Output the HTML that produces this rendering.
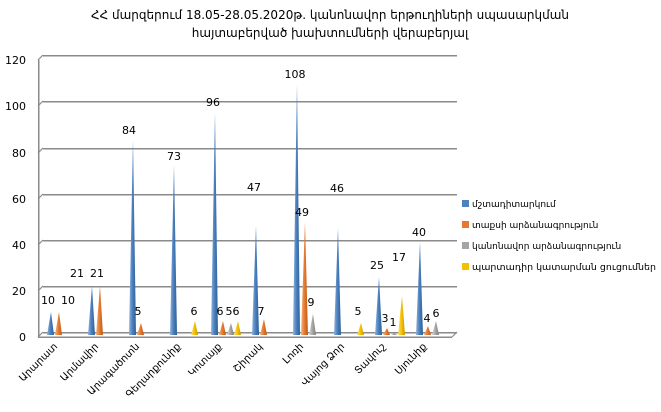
<!DOCTYPE html>
<html><head><meta charset="utf-8"><style>
html,body{margin:0;padding:0;background:#fff;}
svg{display:block;font-family:"DejaVu Sans","Liberation Sans",sans-serif;}
</style></head><body>
<svg width="661" height="412" viewBox="0 0 661 412" xmlns="http://www.w3.org/2000/svg">
<defs>
<linearGradient id="gb" x1="0" x2="1"><stop offset="0" stop-color="#8fb4dc"/><stop offset="0.5" stop-color="#4a7fbd"/><stop offset="1" stop-color="#2f5f97"/></linearGradient>
<linearGradient id="go" x1="0" x2="1"><stop offset="0" stop-color="#f5b27a"/><stop offset="0.5" stop-color="#e6792f"/><stop offset="1" stop-color="#b95a1c"/></linearGradient>
<linearGradient id="gg" x1="0" x2="1"><stop offset="0" stop-color="#d8d8d8"/><stop offset="0.5" stop-color="#a5a5a5"/><stop offset="1" stop-color="#7e7e7e"/></linearGradient>
<linearGradient id="gy" x1="0" x2="1"><stop offset="0" stop-color="#ffe27a"/><stop offset="0.5" stop-color="#f5c000"/><stop offset="1" stop-color="#c89a00"/></linearGradient>
</defs>
<text x="330" y="19" font-size="12" text-anchor="middle">ՀՀ մարզերում 18.05-28.05.2020թ.  կանոնավոր երթուղիների սպասարկման</text>
<text x="330" y="37" font-size="12" text-anchor="middle">հայտաբերված  խախտումների  վերաբերյալ</text>
<g fill="#8a8a8a">
<rect x="43" y="55" width="414" height="1.5"/><rect x="43" y="101" width="414" height="1.5"/>
<rect x="43" y="148" width="414" height="1.5"/><rect x="43" y="194" width="414" height="1.5"/>
<rect x="43" y="240" width="414" height="1.5"/><rect x="43" y="286" width="414" height="1.5"/>
<rect x="43" y="332" width="414" height="1.5"/>
<rect x="38" y="60" width="1.5" height="278"/><rect x="38" y="336.5" width="414" height="1.5"/>
</g>
<g stroke="#8a8a8a" stroke-width="1.2">
<line x1="38" y1="60" x2="43" y2="55"/><line x1="38" y1="106" x2="43" y2="101"/>
<line x1="38" y1="153" x2="43" y2="148"/><line x1="38" y1="199" x2="43" y2="194"/>
<line x1="38" y1="245" x2="43" y2="240"/><line x1="38" y1="291" x2="43" y2="286"/>
<line x1="38" y1="337" x2="43" y2="332"/><line x1="452" y1="337" x2="457" y2="332"/>
</g>
<g font-size="11" text-anchor="end" fill="#000">
<text x="26" y="64">120</text><text x="26" y="110">100</text><text x="26" y="157">80</text><text x="26" y="203">60</text><text x="26" y="249">40</text><text x="26" y="295">20</text><text x="26" y="341">0</text>
</g>
<g>
<polygon points="47,335 51,312 54,335" fill="url(#gb)"/>
<polygon points="55,335 59,312 62,335" fill="url(#go)"/>
<polygon points="88,335 92,286 95,335" fill="url(#gb)"/>
<polygon points="96,335 100,286 103,335" fill="url(#go)"/>
<polygon points="129,335 133,140 136,335" fill="url(#gb)"/>
<polygon points="137,335 141,323 144,335" fill="url(#go)"/>
<polygon points="170,335 174,165 177,335" fill="url(#gb)"/>
<polygon points="191,335 195,321 198,335" fill="url(#gy)"/>
<polygon points="211,335 215,112 218,335" fill="url(#gb)"/>
<polygon points="219,335 223,321 226,335" fill="url(#go)"/>
<polygon points="227,335 231,323 234,335" fill="url(#gg)"/>
<polygon points="234,335 238,321 241,335" fill="url(#gy)"/>
<polygon points="252,335 256,226 259,335" fill="url(#gb)"/>
<polygon points="260,335 264,319 267,335" fill="url(#go)"/>
<polygon points="293,335 297,84 300,335" fill="url(#gb)"/>
<polygon points="301,335 305,222 308,335" fill="url(#go)"/>
<polygon points="309,335 313,314 316,335" fill="url(#gg)"/>
<polygon points="334,335 338,228 341,335" fill="url(#gb)"/>
<polygon points="357,335 361,323 364,335" fill="url(#gy)"/>
<polygon points="375,335 379,277 382,335" fill="url(#gb)"/>
<polygon points="383,335 387,328 390,335" fill="url(#go)"/>
<polygon points="391,335 394,333 397,335" fill="url(#gg)"/>
<polygon points="398,335 402,296 405,335" fill="url(#gy)"/>
<polygon points="416,335 420,242 423,335" fill="url(#gb)"/>
<polygon points="424,335 428,326 431,335" fill="url(#go)"/>
<polygon points="432,335 436,321 439,335" fill="url(#gg)"/>
</g>
<g font-size="11" text-anchor="middle" fill="#000">
<text x="48" y="304">10</text><text x="68" y="304">10</text><text x="77" y="277">21</text><text x="97" y="277">21</text>
<text x="129" y="134">84</text><text x="138" y="315">5</text><text x="174" y="160">73</text><text x="194" y="315">6</text>
<text x="213" y="106">96</text><text x="220" y="315">6</text><text x="229" y="315">5</text><text x="236" y="315">6</text>
<text x="254" y="191">47</text><text x="261" y="315">7</text><text x="295" y="78">108</text><text x="302" y="216">49</text><text x="311" y="306">9</text>
<text x="337" y="192">46</text><text x="358" y="315">5</text><text x="377" y="269">25</text><text x="385" y="322">3</text><text x="393" y="326">1</text><text x="399" y="261">17</text>
<text x="419" y="236">40</text><text x="427" y="322">4</text><text x="436" y="317">6</text>
</g>
<g font-size="10" text-anchor="end" fill="#000">
<text transform="translate(58,347) rotate(-45)">Արարատ</text>
<text transform="translate(99,347) rotate(-45)">Արմավիր</text>
<text transform="translate(140,347) rotate(-45)">Արագածոտն</text>
<text transform="translate(181,347) rotate(-45)">Գեղարքունիք</text>
<text transform="translate(222,347) rotate(-45)">Կոտայք</text>
<text transform="translate(263,347) rotate(-45)">Շիրակ</text>
<text transform="translate(304,347) rotate(-45)">Լոռի</text>
<text transform="translate(345,347) rotate(-45)">Վայոց Ձոր</text>
<text transform="translate(386,347) rotate(-45)">Տավուշ</text>
<text transform="translate(427,347) rotate(-45)">Սյունիք</text>
</g>
<g font-size="9" fill="#000">
<rect x="462" y="200" width="7" height="7" fill="#4f81bd"/><text x="472" y="207">մշտադիտարկում</text>
<rect x="462" y="221" width="7" height="7" fill="#e6792f"/><text x="472" y="228">տաքսի արձանագրություն</text>
<rect x="462" y="242" width="7" height="7" fill="#a5a5a5"/><text x="472" y="249">կանոնավոր արձանագրություն</text>
<rect x="462" y="263" width="7" height="7" fill="#f5c000"/><text x="472" y="270" textLength="184" lengthAdjust="spacingAndGlyphs">պարտադիր կատարման ցուցումներ</text>
</g>
</svg>
</body></html>
